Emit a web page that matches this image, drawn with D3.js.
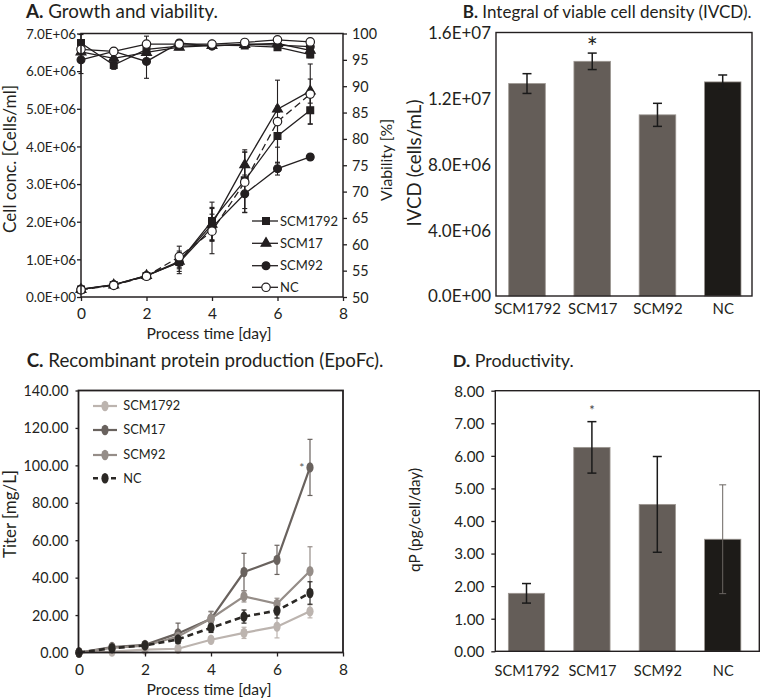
<!DOCTYPE html>
<html><head><meta charset="utf-8">
<script src="https://cdn.jsdelivr.net/npm/d3@7"></script>
<style>body{margin:0;background:#fff}svg{display:block}</style>
</head><body>
<svg id="c" width="762" height="699"></svg>
<script>
// ================= DATA =================
const days = [0,1,2,3,4,5,6,7];
const groups = ["SCM1792","SCM17","SCM92","NC"];

// Panel A: viable cell concentration (cells/ml)
const cellSCM1792 = [0.20e6,0.32e6,0.56e6,0.93e6,2.02e6,3.10e6,4.28e6,4.96e6];
const cellSCM17   = [0.20e6,0.32e6,0.57e6,0.95e6,1.93e6,3.51e6,4.99e6,5.47e6];
const cellSCM92   = [0.21e6,0.33e6,0.57e6,0.92e6,1.85e6,2.74e6,3.41e6,3.72e6];
const cellNC      = [0.19e6,0.31e6,0.55e6,1.07e6,1.75e6,3.05e6,4.66e6,5.39e6];
const cellErrSCM1792 = [0.03e6,0.04e6,0.06e6,0.25e6,0.50e6,0.75e6,0.30e6,0.36e6];
const cellErrSCM17   = [0.03e6,0.04e6,0.06e6,0.20e6,0.45e6,0.40e6,0.08e6,0.32e6];
const cellErrSCM92   = [0.03e6,0.04e6,0.06e6,0.30e6,0.35e6,0.50e6,0.17e6,0.00e6];
const cellErrNC      = [0.03e6,0.04e6,0.06e6,0.28e6,0.60e6,0.80e6,1.10e6,0.80e6];
// Panel A: viability (%)
const viaSCM1792 = [98.2,94.0,97.0,97.6,97.8,97.7,97.4,96.0];
const viaSCM17   = [96.5,95.3,96.4,97.4,97.7,97.9,98.1,96.8];
const viaSCM92   = [95.0,96.6,94.7,98.2,97.6,98.0,97.8,97.5];
const viaNC      = [97.0,96.6,98.0,98.0,98.0,98.3,98.8,98.4];
const viaErrSCM1792 = [1.6,0.8,0.5,0.3,0.3,0.3,0.4,0.6];
const viaErrSCM17   = [0.5,0.5,0.5,0.3,0.3,0.3,0.3,0.4];
const viaErrSCM92   = [2.6,0.5,3.2,0.3,0.3,0.3,0.3,0.3];
const viaErrNC      = [0.5,0.5,1.5,0.3,0.3,0.3,0.3,0.3];

// Panel B: IVCD (cells/mL)
const ivcd    = [12.9e6,14.25e6,11.0e6,13.0e6];
const ivcdErr = [0.6e6,0.5e6,0.7e6,0.42e6];

// Panel C: titer (mg/L)
const titerSCM1792 = [0,0.5,1.5,2.0,6.8,10.5,13.8,22.0];
const titerSCM17   = [0,2.9,4.1,10.2,18.0,43.0,49.5,98.9];
const titerSCM92   = [0,2.5,3.6,8.5,18.2,30.0,26.0,43.5];
const titerNC      = [0,2.3,3.8,7.0,13.2,19.2,22.4,31.8];
const titerErrSCM1792 = [0,0.3,0.4,0.5,1.5,3.0,6.0,3.5];
const titerErrSCM17   = [0,0.6,0.8,5.5,4.0,10.0,7.8,15.0];
const titerErrSCM92   = [0,0.5,0.8,3.0,3.5,3.0,3.0,13.0];
const titerErrNC      = [0,0.5,0.7,2.0,2.5,3.5,4.0,6.0];

// Panel D: qP (pg/cell/day)
const qp    = [1.78,6.26,4.51,3.44];
const qpErr = [0.30,0.79,1.47,1.67];

// Ticks
const aCellTicks = [0,1e6,2e6,3e6,4e6,5e6,6e6,7e6];
const aCellTickLabels = ["0.0E+00","1.0E+06","2.0E+06","3.0E+06","4.0E+06","5.0E+06","6.0E+06","7.0E+06"];
const aViaTicks = [50,55,60,65,70,75,80,85,90,95,100];
const aViaTickLabels = ["50","55","60","65","70","75","80","85","90","95","100"];
const dayTicks = [0,2,4,6,8];
const dayTickLabels = ["0","2","4","6","8"];
const bTicks = [0,4e6,8e6,12e6,16e6];
const bTickLabels = ["0.0E+00","4.0E+06","8.0E+06","1.2E+07","1.6E+07"];
const cTicks = [0,20,40,60,80,100,120,140];
const cTickLabels = ["0.00","20.00","40.00","60.00","80.00","100.00","120.00","140.00"];
const dTicks = [0,1,2,3,4,5,6,7,8];
const dTickLabels = ["0.00","1.00","2.00","3.00","4.00","5.00","6.00","7.00","8.00"];

// ================= DRAWING =================
const FONT = "Lato, 'Open Sans', sans-serif";
const INK = "#231f20";
const svg = d3.select("#c");
svg.append("rect").attr("width",762).attr("height",699).attr("fill","#fff");
const meas = svg.append("text").attr("font-family",FONT).attr("font-size",100).attr("x",-2000).attr("y",-2000);
function fsFor(str,w){ meas.text(str); return 100*w/meas.node().getComputedTextLength(); }

function title(x,y,bold,rest,w){
  const t = svg.append("text").attr("x",x).attr("y",y).attr("font-family",FONT).attr("font-size",100).attr("fill",INK);
  t.append("tspan").attr("font-weight","bold").text(bold);
  t.append("tspan").text(" "+rest);
  t.attr("font-size",100*w/t.node().getComputedTextLength());
}
function label(x,y,str,w,rot){
  const t = svg.append("text").attr("transform",`translate(${x},${y})`+(rot?` rotate(${rot})`:""))
    .attr("text-anchor","middle").attr("dy","0.35em").attr("font-family",FONT).attr("font-size",100).attr("fill",INK).text(str);
  t.attr("font-size",100*w/t.node().getComputedTextLength());
  return t;
}
function styleAxis(g,fs,opts){
  opts = opts||{};
  g.select(".domain").remove();
  g.selectAll("line").attr("stroke",INK).attr("stroke-width",opts.tw||1.3);
  const tx = g.selectAll("text").attr("font-family",FONT).attr("font-size",fs).attr("fill",INK).attr("dy","0.35em");
  if(opts.y!==undefined) tx.attr("y",opts.y);
  g.attr("font-family",null).attr("font-size",null);
}
function errBar(g,x,yTop,yBot,cap,color,w){
  g.append("line").attr("x1",x).attr("x2",x).attr("y1",yTop).attr("y2",yBot).attr("stroke",color).attr("stroke-width",w);
  [yTop,yBot].forEach(yy=>g.append("line").attr("x1",x-cap/2).attr("x2",x+cap/2).attr("y1",yy).attr("y2",yy).attr("stroke",color).attr("stroke-width",w));
}

// ---------- Panel A ----------
{
  const x = d3.scaleLinear().domain([0,8]).range([81,343]);
  const y = d3.scaleLinear().domain([0,7e6]).range([297,33.5]);
  const v = d3.scaleLinear().domain([50,100]).range([297,33.5]);
  const g = svg.append("g");
  title(26,17.5,"A.","Growth and viability.",192);

  const series = [
    {name:"SCM1792",cell:cellSCM1792,ce:cellErrSCM1792,via:viaSCM1792,ve:viaErrSCM1792,sym:d3.symbolSquare,size:46,fill:INK,dash:null},
    {name:"SCM17",cell:cellSCM17,ce:cellErrSCM17,via:viaSCM17,ve:viaErrSCM17,sym:d3.symbolTriangle,size:42,fill:INK,dash:null},
    {name:"SCM92",cell:cellSCM92,ce:cellErrSCM92,via:viaSCM92,ve:viaErrSCM92,sym:d3.symbolCircle,size:48,fill:INK,dash:null},
    {name:"NC",cell:cellNC,ce:cellErrNC,via:viaNC,ve:viaErrNC,sym:d3.symbolCircle,size:56,fill:"#fff",dash:"7,4"}
  ];
  const lineC = d3.line().x((d,i)=>x(days[i])).y(d=>y(d));
  const lineV = d3.line().x((d,i)=>x(days[i])).y(d=>v(d));
  series.forEach(s=>{
    g.append("path").attr("d",lineV(s.via)).attr("fill","none").attr("stroke",INK).attr("stroke-width",1.3);
    g.append("path").attr("d",lineC(s.cell)).attr("fill","none").attr("stroke",INK).attr("stroke-width",1.3).attr("stroke-dasharray",s.dash);
  });
  series.forEach(s=>{
    s.cell.forEach((c,i)=>{ if(s.ce[i]>0.05e6) errBar(g,x(days[i]),y(c+s.ce[i]),y(c-s.ce[i]),5,INK,1.1); });
    s.via.forEach((c,i)=>{ if(s.ve[i]>0.4) errBar(g,x(days[i]),v(c+s.ve[i]),v(c-s.ve[i]),5,INK,1.1); });
  });
  series.forEach(s=>{
    const p = d3.symbol().type(s.sym).size(s.size)();
    s.cell.forEach((c,i)=>g.append("path").attr("d",p).attr("transform",`translate(${x(days[i])},${y(c)})`).attr("fill",s.fill).attr("stroke",INK).attr("stroke-width",1.2));
    s.via.forEach((c,i)=>g.append("path").attr("d",p).attr("transform",`translate(${x(days[i])},${v(c)})`).attr("fill",s.fill).attr("stroke",INK).attr("stroke-width",1.2));
  });
  g.append("rect").attr("x",x(0)).attr("y",y(7e6)).attr("width",x(8)-x(0)).attr("height",y(0)-y(7e6)).attr("fill","none").attr("stroke",INK).attr("stroke-width",1.5);

  const aL = g.append("g").attr("transform",`translate(${x(0)},0)`)
    .call(d3.axisLeft(y).tickValues(aCellTicks).tickFormat((d,i)=>aCellTickLabels[i]).tickSize(4).tickPadding(1));
  styleAxis(aL,fsFor("7.0E+06",50));
  const aR = g.append("g").attr("transform",`translate(${x(8)},0)`)
    .call(d3.axisRight(v).tickValues(aViaTicks).tickFormat((d,i)=>aViaTickLabels[i]).tickSize(4).tickPadding(5));
  styleAxis(aR,fsFor("100",25));
  const aB = g.append("g").attr("transform",`translate(0,${y(0)})`)
    .call(d3.axisBottom(x).tickValues(dayTicks).tickFormat((d,i)=>dayTickLabels[i]).tickSize(4));
  styleAxis(aB,15.5,{y:17});

  label(10,159,"Cell conc. [Cells/ml]",148,-90);
  label(386.5,160,"Viability [%]",82,-90);
  label(209,333,"Process time [day]",125);

  // legend
  const lgY = [221,243.3,265.7,287.3];
  const lfs = fsFor("SCM1792",58);
  series.forEach((s,i)=>{
    const ly = lgY[i];
    g.append("line").attr("x1",252).attr("x2",278).attr("y1",ly).attr("y2",ly).attr("stroke",INK).attr("stroke-width",1.3);
    g.append("path").attr("d",d3.symbol().type(s.sym).size(s.size)()).attr("transform",`translate(266,${ly})`).attr("fill",s.fill).attr("stroke",INK).attr("stroke-width",1.2);
    g.append("text").attr("x",280).attr("y",ly).attr("dy","0.35em").attr("font-family",FONT).attr("font-size",lfs).attr("fill",INK).text(s.name);
  });
}

// ---------- Panel B ----------
{
  const x = d3.scalePoint().domain(groups).range([527,722.7]);
  const y = d3.scaleLinear().domain([0,16e6]).range([296,32.5]);
  const bw = 36.6;
  const g = svg.append("g");
  title(462.7,17.5,"B.","Integral of viable cell density (IVCD).",289);
  const colors = ["#645d58","#645d58","#645d58","#1d1b18"];
  groups.forEach((k,i)=>{
    g.append("rect").attr("x",x(k)-bw/2).attr("y",y(ivcd[i])).attr("width",bw).attr("height",y(0)-y(ivcd[i]))
      .attr("fill",colors[i]).attr("stroke","#9c9691").attr("stroke-width",0.8);
  });
  groups.forEach((k,i)=>errBar(g,x(k),y(ivcd[i]+ivcdErr[i]),y(ivcd[i]-ivcdErr[i]),9,"#1a1a1a",1.5));
  g.append("rect").attr("x",496).attr("y",y(16e6)).attr("width",752-496).attr("height",y(0)-y(16e6)).attr("fill","none").attr("stroke",INK).attr("stroke-width",1.4);
  const bL = g.append("g").attr("transform","translate(496,0)")
    .call(d3.axisLeft(y).tickValues(bTicks).tickFormat((d,i)=>bTickLabels[i]).tickSize(0).tickPadding(5));
  styleAxis(bL,fsFor("1.6E+07",63));
  const bB = g.append("g").attr("transform",`translate(0,${y(0)})`).call(d3.axisBottom(x).tickSize(0));
  styleAxis(bB,fsFor("SCM1792",66.7),{y:12.3});
  g.append("text").attr("x",x("SCM17")).attr("y",57).attr("text-anchor","middle").attr("font-family",FONT).attr("font-size",26).attr("fill",INK).text("*");
  label(414,163,"IVCD (cells/mL)",127,-90);
}

// ---------- Panel C ----------
{
  const x = d3.scaleLinear().domain([0,8]).range([79,343]);
  const y = d3.scaleLinear().domain([0,140]).range([652.5,390.5]);
  const g = svg.append("g");
  title(26.7,367.3,"C.","Recombinant protein production (EpoFc).",357);
  const series = [
    {name:"SCM1792",v:titerSCM1792,e:titerErrSCM1792,color:"#bcb4af",dash:null},
    {name:"SCM17",v:titerSCM17,e:titerErrSCM17,color:"#69625e",dash:null},
    {name:"SCM92",v:titerSCM92,e:titerErrSCM92,color:"#958d88",dash:null},
    {name:"NC",v:titerNC,e:titerErrNC,color:"#2b2825",dash:"6,4"}
  ];
  const line = d3.line().x((d,i)=>x(days[i])).y(d=>y(d));
  series.forEach(s=>{
    s.v.forEach((c,i)=>{ if(s.e[i]>0.9) errBar(g,x(days[i]),y(c+s.e[i]),y(Math.max(0,c-s.e[i])),5,s.color,1.2); });
  });
  series.forEach(s=>{
    g.append("path").attr("d",line(s.v)).attr("fill","none").attr("stroke",s.color).attr("stroke-width",s.dash?2.6:2.2).attr("stroke-dasharray",s.dash);
    s.v.forEach((c,i)=>g.append("ellipse").attr("cx",x(days[i])).attr("cy",y(c)).attr("rx",3.6).attr("ry",5.2).attr("fill",s.color));
  });
  g.append("rect").attr("x",78.5).attr("y",y(140)).attr("width",343-78.5).attr("height",y(0)-y(140)).attr("fill","none").attr("stroke",INK).attr("stroke-width",1.8);
  const cL = g.append("g").attr("transform","translate(78.5,0)")
    .call(d3.axisLeft(y).tickValues(cTicks).tickFormat((d,i)=>cTickLabels[i]).tickSize(3).tickPadding(7));
  styleAxis(cL,fsFor("140.00",45));
  const cB = g.append("g").attr("transform",`translate(0,${y(0)})`)
    .call(d3.axisBottom(x).tickValues(dayTicks).tickFormat((d,i)=>dayTickLabels[i]).tickSize(4));
  styleAxis(cB,15.5,{y:17});
  g.append("text").attr("x",301.7).attr("y",472).attr("text-anchor","middle").attr("font-family",FONT).attr("font-size",12).attr("fill","#555").text("*");
  label(10,514,"Titer [mg/L]",88,-90);
  label(209,689,"Process time [day]",125);

  const lgY = [406,430,455,478.3];
  const lfs = fsFor("SCM1792",57);
  series.forEach((s,i)=>{
    const ly = lgY[i];
    g.append("line").attr("x1",93).attr("x2",117).attr("y1",ly).attr("y2",ly).attr("stroke",s.color).attr("stroke-width",s.dash?2.6:2.2).attr("stroke-dasharray",s.dash?"5,4":null);
    g.append("ellipse").attr("cx",105).attr("cy",ly).attr("rx",3.6).attr("ry",5.2).attr("fill",s.color);
    g.append("text").attr("x",123.3).attr("y",ly).attr("dy","0.35em").attr("font-family",FONT).attr("font-size",lfs).attr("fill",INK).text(s.name);
  });
}

// ---------- Panel D ----------
{
  const x = d3.scalePoint().domain(groups).range([526.5,722.7]);
  const y = d3.scaleLinear().domain([0,8]).range([651.3,390.7]);
  const bw = 36.3;
  const g = svg.append("g");
  title(452.7,367.3,"D.","Productivity.",121);
  const colors = ["#645d58","#645d58","#645d58","#1d1b18"];
  groups.forEach((k,i)=>{
    g.append("rect").attr("x",x(k)-bw/2).attr("y",y(qp[i])).attr("width",bw).attr("height",y(0)-y(qp[i]))
      .attr("fill",colors[i]).attr("stroke","#9c9691").attr("stroke-width",0.8);
  });
  groups.forEach((k,i)=>{
    const last = i===3;
    errBar(g,x(k),y(qp[i]+qpErr[i]),y(qp[i]-qpErr[i]),last?7:9,last?"#6b6662":"#1a1a1a",last?1.0:1.5);
  });
  g.append("rect").attr("x",495.3).attr("y",y(8)).attr("width",759.3-495.3).attr("height",y(0)-y(8)).attr("fill","none").attr("stroke",INK).attr("stroke-width",1.4);
  const dL = g.append("g").attr("transform","translate(495.3,0)")
    .call(d3.axisLeft(y).tickValues(dTicks).tickFormat((d,i)=>dTickLabels[i]).tickSize(4).tickPadding(7));
  styleAxis(dL,fsFor("8.00",30));
  const dB = g.append("g").attr("transform",`translate(0,${y(0)})`).call(d3.axisBottom(x).tickSize(0));
  styleAxis(dB,fsFor("SCM1792",65),{y:19.4});
  g.append("text").attr("x",x("SCM17")).attr("y",415).attr("text-anchor","middle").attr("font-family",FONT).attr("font-size",13).attr("fill","#444").text("*");
  label(415,520,"qP (pg/cell/day)",104,-90);
}
meas.remove();
</script>
</body></html>
